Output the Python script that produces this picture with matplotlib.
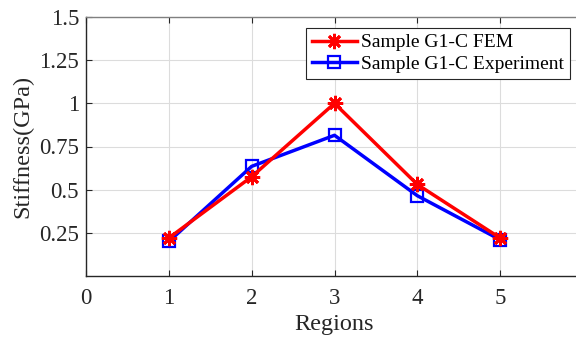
import numpy as np
import matplotlib.pyplot as plt

plt.rcParams['font.family'] = ['Liberation Serif', 'DejaVu Serif']

regions = [1, 2, 3, 4, 5]
fem = [0.22, 0.575, 1.0, 0.53, 0.22]
experiment = [0.20, 0.635, 0.815, 0.465, 0.21]
xticks = [0, 1, 2, 3, 4, 5]
yticks = [0.25, 0.5, 0.75, 1.0, 1.25, 1.5]
ytick_labels = ["0.25", "0.5", "0.75", "1", "1.25", "1.5"]

fig = plt.figure(figsize=(5.76, 3.42), dpi=100)
# axes runs past the right edge like the cropped original
ax = fig.add_axes([86 / 576, 1 - 276 / 342, (583 - 86) / 576, (276 - 17) / 342])

ax.plot(regions, fem, color='#ff0000', lw=2.5, marker=(8, 2, 0), ms=11,
        mew=2.0, label='Sample G1-C FEM', zorder=3)
ax.plot(regions, experiment, color='#0000ff', lw=2.5, marker='s', ms=9,
        mfc='none', mew=1.6, label='Sample G1-C Experiment', zorder=2)

ax.set_xlim(0, 6)
ax.set_ylim(0, 1.5)
ax.set_xticks(xticks)
ax.set_yticks(yticks)
ax.set_yticklabels(ytick_labels)
ax.grid(True, color='#dcdcdc', lw=0.8)
ax.set_axisbelow(True)
ax.tick_params(direction='in', labelsize=16.5, colors='#262626', length=4,
               top=True, right=True)
ax.tick_params(axis='x', pad=9)
ax.tick_params(axis='y', pad=5)
for s in ax.spines.values():
    s.set_color('#262626')
    s.set_linewidth(1.0)
ax.spines['top'].set_color('#808080')

ax.set_xlabel('Regions', fontsize=17.5, color='#262626', labelpad=3)
ax.set_ylabel('Stiffness(GPa)', fontsize=17.5, color='#262626', labelpad=4)

leg = ax.legend(loc='upper left', bbox_to_anchor=((306 - 86) / 497, 1 - (28 - 17) / 259),
                fontsize=14, frameon=True, fancybox=False, framealpha=1,
                edgecolor='#262626', borderpad=0.3, labelspacing=0.2,
                handlelength=2.3, handletextpad=0.25, borderaxespad=0)
leg.get_frame().set_linewidth(0.8)

fig.savefig('out.png', dpi=100)
